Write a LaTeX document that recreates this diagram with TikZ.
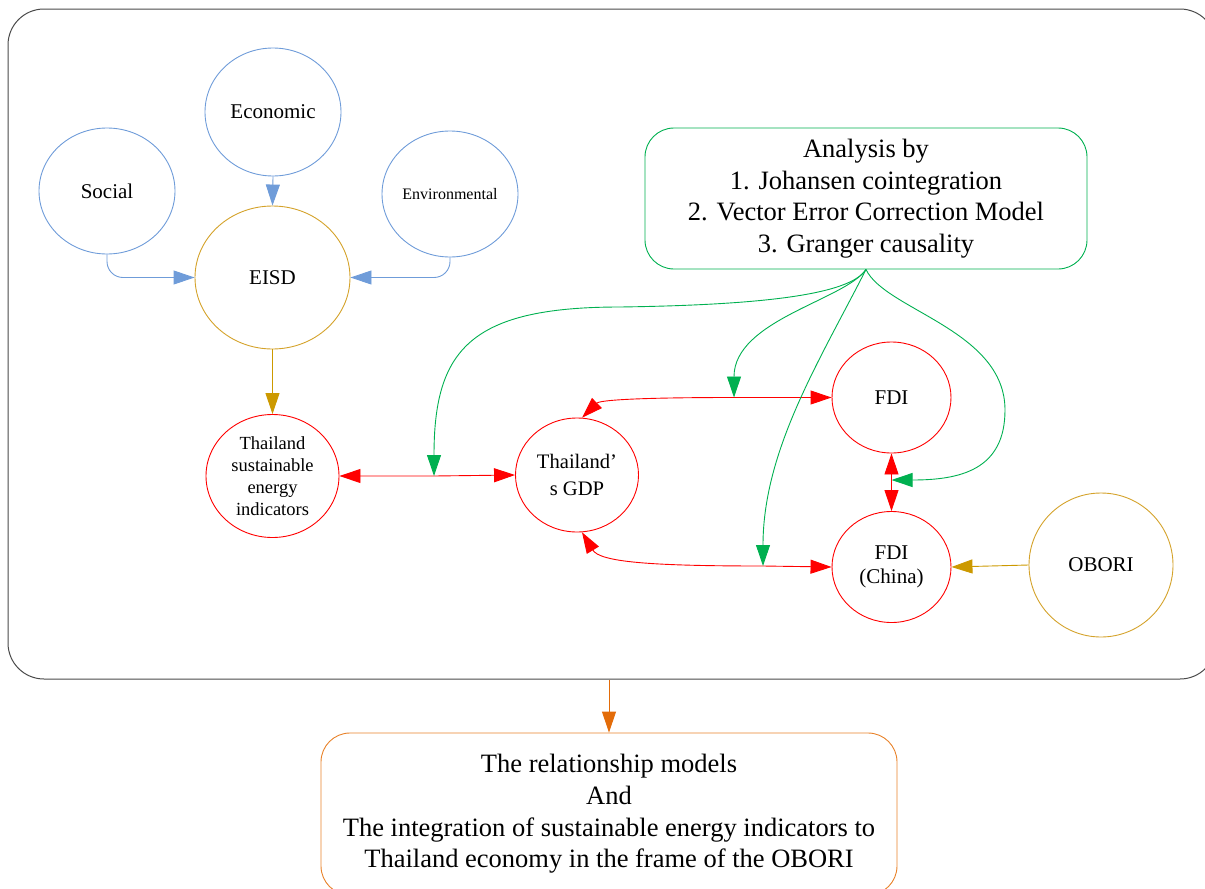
\documentclass[tikz,border=0pt]{standalone}
\usepackage{fontspec}
\setmainfont{Liberation Serif}
\usetikzlibrary{arrows.meta,shapes.geometric,calc}
\definecolor{cblue}{HTML}{6F9CD9}
\definecolor{cgold}{HTML}{CC9900}
\definecolor{cgoldline}{HTML}{D4A22A}
\definecolor{cred}{HTML}{FF0000}
\definecolor{cgreen}{HTML}{00B050}
\definecolor{corange}{HTML}{E36C09}
\definecolor{corangeline}{HTML}{E8822A}
\definecolor{cframe}{HTML}{4A4A4A}
\begin{document}
\begin{tikzpicture}[x=1pt,y=-1pt,
  arr/.style={-{Triangle[length=21pt,width=14pt]}, line width=0.9pt},
  darr/.style={{Triangle[length=21pt,width=14pt]}-{Triangle[length=21pt,width=14pt]}, line width=0.9pt},
  circ/.style={ellipse, draw, line width=0.9pt, inner sep=0pt, align=center, text=black},
  fnorm/.style={font=\fontsize{21}{24}\selectfont},
  fsmall/.style={font=\fontsize{16}{19}\selectfont},
  ftse/.style={font=\fontsize{18.5}{22}\selectfont},
  fgdp/.style={font=\fontsize{20.6}{27}\selectfont},
  fbig/.style={font=\fontsize{26.5}{31.6}\selectfont},
  roundbox/.style={rectangle, draw, rounded corners=29pt, line width=0.9pt, align=center, inner sep=0pt, text=black}
]
\useasboundingbox (0,0) rectangle (1205,889);

% outer frame
\node[rectangle, draw=cframe, rounded corners=36pt, line width=1pt,
      minimum width=1208pt, minimum height=670pt, inner sep=0pt] (frame) at (612,344) {};

% top-left cluster
\node[circ, draw=cblue, fnorm, minimum width=136pt, minimum height=128pt] (econ) at (273,112) {Economic};
\node[circ, draw=cblue, fnorm, minimum width=136pt, minimum height=126pt] (social) at (107,191) {Social};
\node[circ, draw=cblue, fsmall, minimum width=136pt, minimum height=126pt] (env) at (450,194) {Environmental};
\node[circ, draw=cgoldline, fnorm, minimum width=155pt, minimum height=143pt] (eisd) at (272.5,277.5) {EISD};
\node[circ, draw=cred, ftse, minimum width=133pt, minimum height=123pt] (tse) at (272.5,476) {Thailand\\sustainable\\energy\\indicators};

% middle / right nodes
\node[circ, draw=cred, fgdp, minimum width=123pt, minimum height=114pt] (gdp) at (577,475) {Thailand’\\s GDP};
\node[circ, draw=cred, fnorm, minimum width=119pt, minimum height=111pt] (fdi) at (891.5,397.5) {FDI};
\node[circ, draw=cred, fnorm, minimum width=119pt, minimum height=111pt] (fchina) at (891.5,567) {FDI\\(China)};
\node[circ, draw=cgoldline, fnorm, minimum width=144pt, minimum height=144pt] (obori) at (1101,565) {OBORI};

% boxes
\node[roundbox, draw=cgreen, fbig, minimum width=442pt, minimum height=141pt] (analysis) at (866,198.5)
  {Analysis by\\1. Johansen cointegration\\2. Vector Error Correction Model\\3. Granger causality};
\node[roundbox, draw=corangeline, fbig, minimum width=576pt, minimum height=162pt] (result) at (609,814)
  {The relationship models\\And\\The integration of sustainable energy indicators to\\Thailand economy in the frame of the OBORI};

% junction points on the red links
\coordinate (m1) at (434,476);
\coordinate (m2) at (734,397.5);
\coordinate (m3) at (763,566);
\coordinate (m4) at (891.5,480);

% blue and gold arrows
\draw[arr, cblue] (econ.south) -- (eisd.north);
\draw[arr, cblue, rounded corners=16pt] (social.south) |- (eisd.west);
\draw[arr, cblue, rounded corners=16pt] (env.south) |- (eisd.east);
\draw[arr, cgold] (eisd.south) -- (tse.north);
\draw[arr, cgold] (obori.west) -- (fchina.east);

% red double arrows
\draw[darr, cred] (tse.east) -- (m1) -- (gdp.west);
\draw[darr, cred] (fdi.west) -- (m2) .. controls (640,397.5) and (600,400) .. (gdp.85);
\draw[darr, cred] (fchina.west) -- (m3) .. controls (650,566) and (600,562) .. (gdp.275);
\draw[darr, cred] (fdi.south) -- (m4) -- (fchina.north);

% green arrows
\draw[arr, cgreen] (analysis.south) .. controls (850,295) and (760,305) .. (620,307)
   .. controls (470,307) and (434,350) .. (m1);
\draw[arr, cgreen] (analysis.south) .. controls (845,300) and (734,320) .. (m2);
\draw[arr, cgreen] (analysis.south) .. controls (820,360) and (763,450) .. (m3);
\draw[arr, cgreen] (analysis.south) .. controls (885,310) and (1005,330) .. (1005,410)
   .. controls (1005,470) and (960,480) .. (m4);

% to the result
\draw[arr, corange] (frame.south -| result.north) -- (result.north);
\end{tikzpicture}
\end{document}
